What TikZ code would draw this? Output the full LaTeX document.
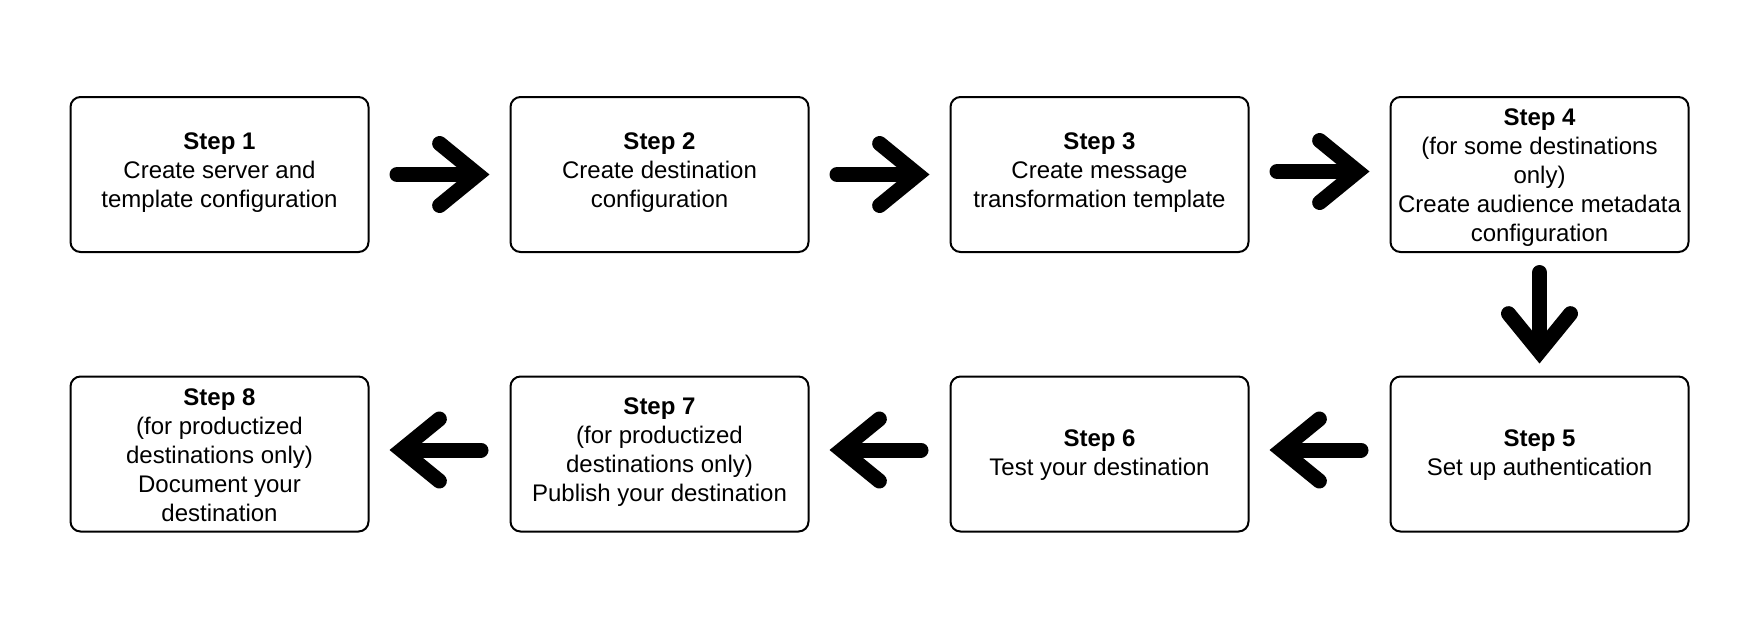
\documentclass[tikz,border=0pt]{standalone}
\usepackage{fontspec}
\setmainfont{Liberation Sans}
\usetikzlibrary{arrows.meta,calc}
\tikzset{
  stepbox/.style={draw=black, line width=2pt, rounded corners=10pt, fill=white,
    minimum width=298pt, minimum height=155pt, inner sep=0pt},
  steptext/.style={inner sep=0pt, align=center, font=\fontsize{24}{29}\selectfont},
  bigarrow/.style={line width=15pt, line cap=round,
    -{Straight Barb[length=38pt, width=62pt, line cap=round, line join=miter]}}
}
\begin{document}
\begin{tikzpicture}[x=1pt,y=-1pt]
\useasboundingbox[fill=white] (0,0) rectangle (1756,633);
\node[stepbox] (b1) at (219.5,174.5) {};
\node[stepbox] (b2) at (659.5,174.5) {};
\node[stepbox] (b3) at (1099.5,174.5) {};
\node[stepbox] (b4) at (1539.5,174.5) {};
\node[stepbox] (b5) at (1539.5,454) {};
\node[stepbox] (b6) at (1099.5,454) {};
\node[stepbox] (b7) at (659.5,454) {};
\node[stepbox] (b8) at (219.5,454) {};
\node[steptext, yshift=2.2pt] (t1) at (b1) {\textbf{Step 1}\\Create server and\\template configuration};
\node[steptext, yshift=2.2pt] (t2) at (b2) {\textbf{Step 2}\\Create destination\\configuration};
\node[steptext, yshift=2.2pt] (t3) at (b3) {\textbf{Step 3}\\Create message\\transformation template};
\node[steptext, yshift=-3.4pt] (t4) at (b4) {\textbf{Step 4}\\(for some destinations\\only)\\Create audience metadata\\configuration};
\node[steptext, yshift=-1.1pt] (t5) at (b5) {\textbf{Step 5}\\Set up authentication};
\node[steptext, yshift=-1.1pt] (t6) at (b6) {\textbf{Step 6}\\Test your destination};
\node[steptext, yshift=2.2pt] (t7) at (b7) {\textbf{Step 7}\\(for productized\\destinations only)\\Publish your destination};
\node[steptext, yshift=-1.1pt] (t8) at (b8) {\textbf{Step 8}\\(for productized\\destinations only)\\Document your\\destination};
\draw[bigarrow] ($(b1.east)+(27.5,0)$) -- ($(b2.west)+(-20,0)$);
\draw[bigarrow] ($(b2.east)+(27.5,0)$) -- ($(b3.west)+(-20,0)$);
\draw[bigarrow] ($(b3.east)+(27.5,-3)$) -- ($(b4.west)+(-20,-3)$);
\draw[bigarrow] ($(b4.south)+(0,19.5)$) -- ($(b5.north)+(0,-12)$);
\draw[bigarrow] ($(b5.west)+(-28.5,-4)$) -- ($(b6.east)+(20,-4)$);
\draw[bigarrow] ($(b6.west)+(-28.5,-4)$) -- ($(b7.east)+(20,-4)$);
\draw[bigarrow] ($(b7.west)+(-28.5,-4)$) -- ($(b8.east)+(20,-4)$);
\end{tikzpicture}
\end{document}
